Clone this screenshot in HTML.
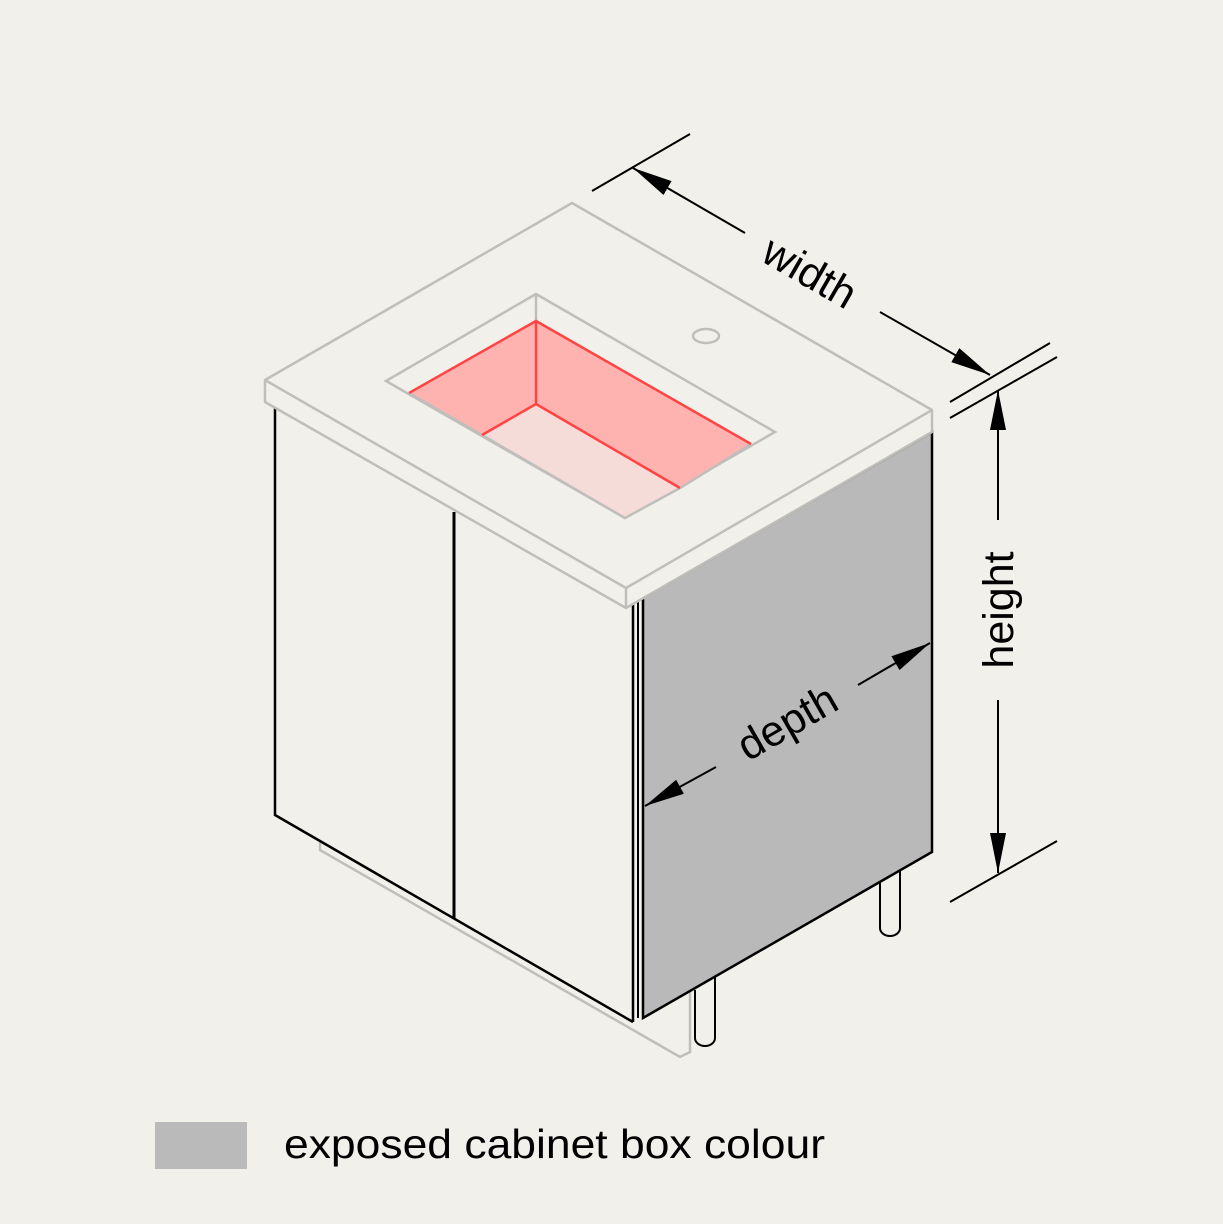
<!DOCTYPE html>
<html><head><meta charset="utf-8"><style>html,body{margin:0;padding:0;background:#f2f0eb;}svg{display:block}</style></head>
<body>
<svg width="1223" height="1224" viewBox="0 0 1223 1224" xmlns="http://www.w3.org/2000/svg" font-family="Liberation Sans, sans-serif">
<defs>
<marker id="a" viewBox="0 0 40 20" refX="40" refY="10" markerWidth="40" markerHeight="20" markerUnits="userSpaceOnUse" orient="auto-start-reverse">
<path d="M0,2 L40,10 L0,18 z" fill="#000"/></marker>
</defs>
<rect width="1223" height="1224" fill="#f2f0eb"/>
<polyline points="320,842 320,850 680,1057 690,1052 690,990" fill="none" stroke="#c0bebb" stroke-width="2.5"/>
<path d="M880,870 V928 a10,8 0 0 0 20,0 V860" fill="#f2f0eb" stroke="#000" stroke-width="2"/>
<path d="M695,990 V1038 a10,8 0 0 0 20,0 V975" fill="#f2f0eb" stroke="#000" stroke-width="2"/>
<polygon points="275,405 633,605 633,1022 275,815" fill="#f2f0eb"/>
<polyline points="275,405 275,815 633,1022" fill="none" stroke="#000" stroke-width="2.5"/>
<line x1="454" y1="512" x2="454" y2="918" stroke="#000" stroke-width="3"/>
<line x1="633" y1="600" x2="633" y2="1022" stroke="#000" stroke-width="2.5"/>
<line x1="638" y1="600" x2="638" y2="1018" stroke="#000" stroke-width="2"/>
<polygon points="643,598 932,432 932,852 643,1018" fill="#b9b9b9" stroke="#000" stroke-width="2.5"/>
<polygon points="265,380 572,203 932,410 932,432 626,608 265,402" fill="#f2f0eb" stroke="#c0bebb" stroke-width="2.5" stroke-linejoin="round"/>
<polyline points="265,380 626,588 932,410" fill="none" stroke="#c0bebb" stroke-width="2.5"/>
<line x1="626" y1="588" x2="626" y2="608" stroke="#c0bebb" stroke-width="2.5"/>
<polygon points="386,381 536,294 775,432 625,518" fill="none" stroke="#c0bebb" stroke-width="2.5"/>
<polygon points="482,435 536,404 680,488 625,518 482,435" fill="#f6dcd9"/>
<polygon points="409,393 536,321 536,404 482,435" fill="#ffb3b0"/>
<polygon points="536,321 751,444 680,488 536,404" fill="#ffb3b0"/>
<polyline points="409,393 482,435 625,518 680,488 751,444" fill="none" stroke="#c0bebb" stroke-width="2.5"/>
<line x1="536" y1="294" x2="536" y2="321" stroke="#c0bebb" stroke-width="2.5"/>
<g stroke="#ff4444" stroke-width="2.5" fill="none">
<polyline points="409,393 536,321 751,444"/>
<line x1="536" y1="321" x2="536" y2="404"/>
<polyline points="482,435 536,404 680,488"/>
</g>
<ellipse cx="706" cy="336" rx="13" ry="7" fill="none" stroke="#c0bebb" stroke-width="2.5"/>
<g stroke="#000" stroke-width="2" fill="none">
<line x1="592" y1="191" x2="690" y2="134"/>
<line x1="950" y1="402" x2="1050" y2="343"/>
<line x1="950" y1="418" x2="1057" y2="357"/>
<line x1="745" y1="233" x2="633" y2="168" marker-end="url(#a)"/>
<line x1="880" y1="312" x2="990" y2="375" marker-end="url(#a)"/>
<line x1="950" y1="902" x2="1057" y2="841"/>
<line x1="998" y1="520" x2="998" y2="390" marker-end="url(#a)"/>
<line x1="998" y1="700" x2="998" y2="873" marker-end="url(#a)"/>
<line x1="858" y1="685" x2="930" y2="643" marker-end="url(#a)"/>
<line x1="716" y1="767" x2="645" y2="806" marker-end="url(#a)"/>
</g>
<text x="810" y="287" font-size="43" text-anchor="middle" transform="rotate(30 810 272)">width</text>
<text x="998" y="625" font-size="43" text-anchor="middle" transform="rotate(-90 998 610)">height</text>
<text x="787" y="737" font-size="43" text-anchor="middle" transform="rotate(-30 787 722)">depth</text>
<rect x="155" y="1122" width="92" height="47" fill="#bababa"/>
<text x="284" y="1158" font-size="41" textLength="541" lengthAdjust="spacingAndGlyphs">exposed cabinet box colour</text>
</svg>
</body></html>
